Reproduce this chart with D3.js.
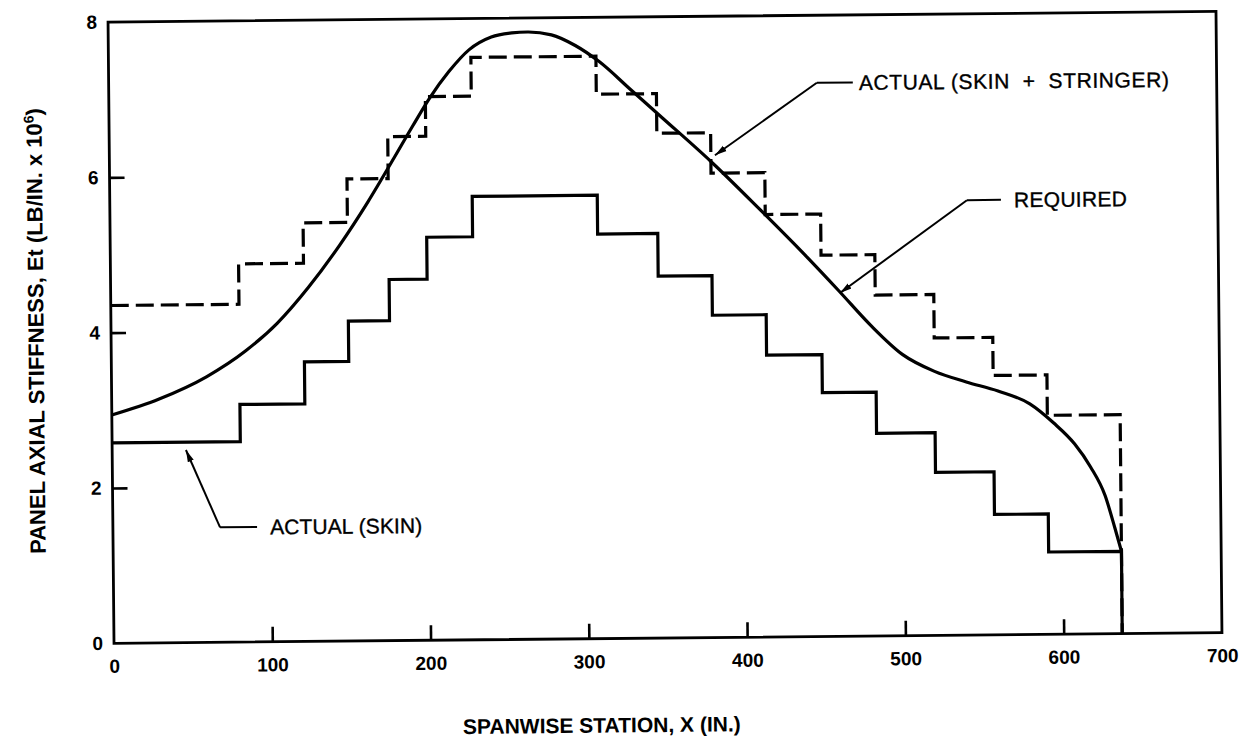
<!DOCTYPE html>
<html>
<head>
<meta charset="utf-8">
<script src="https://cdn.jsdelivr.net/npm/d3@7"></script>
<style>
  html, body { margin: 0; padding: 0; background: #fff; }
  svg { display: block; }
  text { font-family: "Liberation Sans", Arial, Helvetica, sans-serif; fill: #000; }
</style>
</head>
<body>
<svg id="chart" width="1247" height="739"></svg>
<script>
// ---------------- data ----------------
// step boundaries (spanwise stations, in.)
const stations = [0, 81, 122, 150, 176, 200, 229, 308, 346, 380, 414, 449, 483, 520, 557, 591, 637];
// Actual (skin) stiffness per panel
const skinValues = [2.58, 3.06, 3.60, 4.12, 4.65, 5.19, 5.71, 5.21, 4.66, 4.15, 3.63, 3.14, 2.61, 2.10, 1.55, 1.06];
// Actual (skin + stringer) stiffness per panel
const stringerValues = [4.35, 4.87, 5.39, 5.95, 6.49, 7.00, 7.50, 7.01, 6.50, 5.98, 5.44, 4.91, 4.39, 3.83, 3.34, 2.82];
// Required stiffness curve
const requiredX = [0, 30, 60, 85, 105, 125, 145, 163, 180, 192, 203, 215, 228, 242, 255, 265, 280, 295, 310, 330, 350, 380, 410, 440, 460, 480, 500, 520, 540, 560, 580, 595, 608, 618, 627, 633, 637];
const requiredY = [2.94, 3.14, 3.42, 3.75, 4.10, 4.56, 5.10, 5.65, 6.22, 6.63, 6.99, 7.32, 7.60, 7.76, 7.81, 7.82, 7.78, 7.64, 7.43, 7.06, 6.69, 6.13, 5.52, 4.89, 4.45, 4.00, 3.62, 3.40, 3.26, 3.14, 2.97, 2.72, 2.45, 2.15, 1.78, 1.36, 1.06];
// axis ticks
const xTicks = [0, 100, 200, 300, 400, 500, 600, 700];
const yTicks = [0, 2, 4, 6, 8];
// annotations (labels with leaders pointing at the curves)
const annLabels = ["ACTUAL (SKIN  +  STRINGER)", "REQUIRED", "ACTUAL (SKIN)"];
const annTipX  = [382.6, 460.7, 46.6];
const annTipY  = [6.21, 4.42, 2.48];
const annKneeX = [447.4, 541.5, 67.7];
const annKneeY = [7.13, 5.60, 1.48];

// ---------------- layout ----------------
const W = 1247, H = 739;
const plot = { left: 111, right: 1219, top: 16.7, bottom: 638 };
const svg = d3.select("#chart");
svg.append("rect").attr("width", W).attr("height", H).attr("fill", "#fff");

// the scanned original is slightly rotated
const g = svg.append("g").attr("transform", "rotate(-0.55, 665, 327)");

const x = d3.scaleLinear().domain([0, 700]).range([plot.left, plot.right]);
const y = d3.scaleLinear().domain([0, 8]).range([plot.bottom, plot.top]);

// arrow marker
const defs = svg.append("defs");
defs.append("marker")
  .attr("id", "arrow")
  .attr("viewBox", "0 0 12 8")
  .attr("refX", 12).attr("refY", 4)
  .attr("markerWidth", 12).attr("markerHeight", 8)
  .attr("markerUnits", "userSpaceOnUse")
  .attr("orient", "auto")
  .append("path").attr("d", "M0,0.8 L12,4 L0,7.2 Z").attr("fill", "#000");

// axes (ticks pointing inward)
const xAxis = d3.axisBottom(x).tickValues(xTicks).tickSize(-15).tickPadding(16).tickFormat(d3.format("d"));
const yAxis = d3.axisLeft(y).tickValues(yTicks).tickSize(-15).tickPadding(11).tickFormat(d3.format("d"));

const gx = g.append("g").attr("transform", `translate(0,${plot.bottom})`).call(xAxis);
const gy = g.append("g").attr("transform", `translate(${plot.left},0)`).call(yAxis);
[gx, gy].forEach(a => {
  a.select(".domain").remove();
  a.selectAll(".tick line").attr("stroke", "#000").attr("stroke-width", 2.6);
  a.selectAll(".tick text")
    .attr("fill", "#000")
    .style("font-family", '"Liberation Sans", Arial, sans-serif')
    .style("font-size", "19px")
    .style("font-weight", "bold");
});
// no inner tick marks at the frame corners
gx.selectAll(".tick").filter(d => d === 0 || d === 700).select("line").remove();
gy.selectAll(".tick").filter(d => d === 0 || d === 8).select("line").remove();

// frame
g.append("rect")
  .attr("x", x(0)).attr("y", y(8))
  .attr("width", x(700) - x(0)).attr("height", y(0) - y(8))
  .attr("fill", "none").attr("stroke", "#000").attr("stroke-width", 2.8);

// step series
function stepPoints(values) {
  const pts = values.map((v, i) => [stations[i], v]);
  pts.push([stations[stations.length - 1], 0]);
  return pts;
}
const stepLine = d3.line().x(d => x(d[0])).y(d => y(d[1])).curve(d3.curveStepAfter);

g.append("path")
  .datum(stepPoints(stringerValues))
  .attr("d", stepLine)
  .attr("fill", "none").attr("stroke", "#000").attr("stroke-width", 3.2)
  .attr("stroke-dasharray", "18,7");

g.append("path")
  .datum(stepPoints(skinValues))
  .attr("d", stepLine)
  .attr("fill", "none").attr("stroke", "#000").attr("stroke-width", 3.2);

// required curve
const reqLine = d3.line().x(d => x(d[0])).y(d => y(d[1])).curve(d3.curveMonotoneX);
g.append("path")
  .datum(requiredX.map((v, i) => [v, requiredY[i]]))
  .attr("d", reqLine)
  .attr("fill", "none").attr("stroke", "#000").attr("stroke-width", 3.2)
  .attr("stroke-linejoin", "round");

// annotations
const horizLen = [36, 34, 37];
const textGap = [6, 13, 13];
const letterSp = [0.6, 0.3, 0.1];
annLabels.forEach((lab, i) => {
  const kx = x(annKneeX[i]), ky = y(annKneeY[i]);
  const tx = x(annTipX[i]), ty = y(annTipY[i]);
  g.append("line")
    .attr("x1", kx).attr("y1", ky).attr("x2", kx + horizLen[i]).attr("y2", ky)
    .attr("stroke", "#000").attr("stroke-width", 2);
  g.append("line")
    .attr("x1", kx).attr("y1", ky).attr("x2", tx).attr("y2", ty)
    .attr("stroke", "#000").attr("stroke-width", 2)
    .attr("marker-end", "url(#arrow)");
  g.append("text")
    .attr("x", kx + horizLen[i] + textGap[i]).attr("y", ky + 7.5)
    .attr("xml:space", "preserve")
    .style("white-space", "pre")
    .style("font-size", "21px")
    .style("letter-spacing", letterSp[i] + "px")
    .style("stroke", "#000").style("stroke-width", "0.35px")
    .text(lab);
});

// axis titles
g.append("text")
  .attr("x", 598).attr("y", 732)
  .attr("text-anchor", "middle")
  .style("font-size", "21px").style("font-weight", "bold")
  .text("SPANWISE STATION, X (IN.)");

const yt = g.append("text")
  .attr("transform", "translate(43.5,325) rotate(-90)")
  .attr("text-anchor", "middle")
  .style("font-size", "22px").style("font-weight", "bold");
yt.append("tspan").text("PANEL AXIAL STIFFNESS, Et (LB/IN. x 10");
yt.append("tspan").attr("dy", -8).style("font-size", "14px").text("6");
yt.append("tspan").attr("dy", 8).text(")");
</script>
</body>
</html>
